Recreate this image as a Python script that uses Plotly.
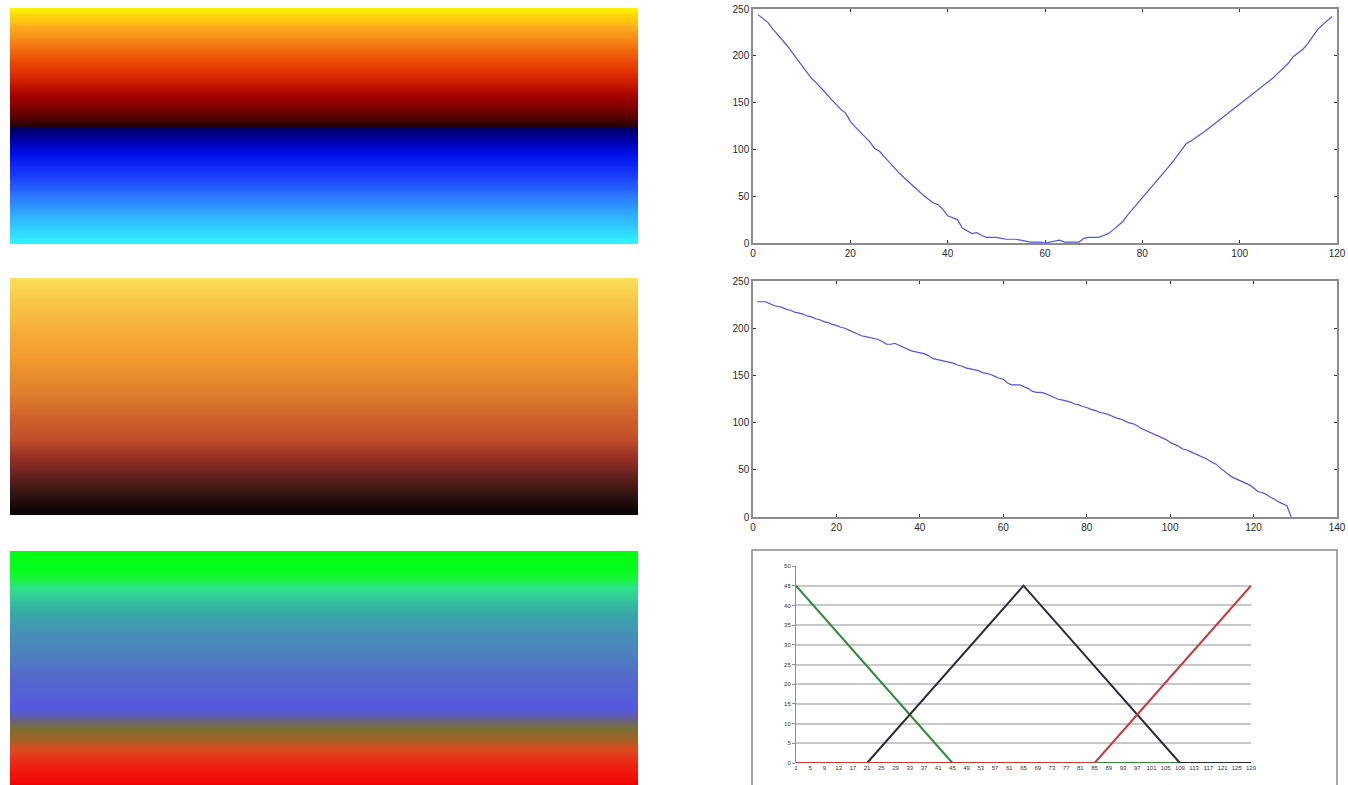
import plotly.graph_objects as go

W, H = 1348, 785

# ---- colormap swatches (stop position from top, colour) ----
hot_cold_stops = [
    (0.00, "#fff200"), (0.09, "#fca51d"), (0.16, "#f47612"), (0.25, "#e83a02"),
    (0.30, "#d42400"), (0.37, "#a80000"), (0.44, "#700000"), (0.50, "#2a0000"),
    (0.51, "#000060"), (0.56, "#0000a8"), (0.62, "#0010e8"), (0.71, "#1a3cff"),
    (0.79, "#2a70ff"), (0.87, "#30a8ff"), (1.00, "#2ef4ff"),
]
copper_stops = [
    (0.00, "#fde05a"), (0.09, "#f8c848"), (0.20, "#f6b23c"), (0.34, "#f39a2e"),
    (0.48, "#e0802c"), (0.58, "#d0652c"), (0.68, "#c24e2a"), (0.76, "#963024"),
    (0.82, "#702420"), (0.90, "#3a1614"), (1.00, "#050303"),
]
grb_stops = [
    (0.00, "#00ff10"), (0.09, "#08fc20"), (0.13, "#1ef050"), (0.16, "#2ee090"),
    (0.23, "#36b8a0"), (0.27, "#38a8a8"), (0.35, "#4690b8"), (0.44, "#4e80c0"),
    (0.54, "#5468cc"), (0.67, "#5658e0"), (0.71, "#665e90"), (0.75, "#787034"),
    (0.80, "#a86024"), (0.84, "#dc4a20"), (0.91, "#f02010"), (1.00, "#ee0000"),
]
levels = list(range(256))

# ---- top-right curve ----
x1 = list(range(1, 120))
y1 = [244, 240, 236, 229, 223, 218, 211, 204, 197, 190,
      184, 176, 171, 166, 160, 154, 148, 143, 139, 130,
      124, 119, 113, 108, 101, 98, 92, 86, 81, 75,
      70, 65, 60, 55, 51, 47, 43, 41, 36, 29,
      27, 25, 16, 13, 10, 11, 8, 6, 6, 6,
      5, 4, 4, 4, 3, 2, 1, 1, 1, 0,
      1, 2, 3, 1, 1, 1, 1, 5, 6, 6,
      6, 8, 10, 14, 18, 23, 30, 36, 42, 48,
      55, 61, 67, 73, 79, 85, 92, 99, 106, 109,
      113, 117, 120, 124, 128, 132, 136, 140, 145, 149,
      153, 157, 161, 165, 169, 173, 177, 182, 187, 192,
      199, 203, 207, 213, 220, 228, 233, 238, 242]

# ---- middle-right curve ----
x2 = list(range(1, 130))
y2 = [228, 228, 228, 226, 224, 223, 222, 220, 219, 217,
      216, 215, 213, 212, 210, 209, 207, 206, 204, 203,
      201, 200, 198, 196, 194, 192, 191, 190, 189, 188,
      186, 183, 183, 184, 182, 180, 178, 176, 175, 174,
      173, 171, 168, 167, 166, 165, 164, 163, 161, 160,
      158, 157, 156, 155, 153, 152, 151, 149, 147, 146,
      142, 140, 140, 140, 138, 136, 133, 132, 132, 131,
      129, 127, 125, 124, 123, 122, 120, 119, 117, 116,
      114, 113, 111, 110, 109, 107, 105, 104, 102, 100,
      99, 97, 94, 92, 90, 88, 86, 84, 82, 79,
      77, 75, 72, 71, 69, 67, 65, 63, 61, 58,
      56, 52, 48, 45, 42, 40, 38, 36, 34, 31,
      27, 26, 24, 21, 19, 16, 14, 12, 0]

# ---- bottom-right membership lines (vertices) ----
green_x, green_y = [1, 45, 129], [45, 0, 0]
black_x, black_y = [1, 21, 65, 109, 129], [0, 0, 45, 0, 0]
red_x, red_y = [1, 85, 129], [0, 0, 45]
cat_ticks = list(range(1, 130, 4))
cat_labels = [str(v) for v in cat_ticks]


def px_x(a, b):
    return [a / W, b / W]


def px_y(top, bottom):
    return [max(0.0, 1 - bottom / H), min(1.0, 1 - top / H)]


def scale(stops):
    return [[p, c] for p, c in stops]


fig = go.Figure()

# colormap swatches
swatches = [(hot_cold_stops, (8, 244)), (copper_stops, (278, 515)), (grb_stops, (551, 788))]
for i, (stops, (t, b)) in enumerate(swatches, start=1):
    fig.add_trace(go.Heatmap(
        z=[[v, v] for v in levels], x=[0, 1], y=levels,
        colorscale=scale(stops), zmin=0, zmax=255, showscale=False,
        hoverinfo="skip", xaxis=f"x{i}", yaxis=f"y{i}"))
    # the lowest swatch runs past the bottom edge of the page
    y_bottom = 255.5 if b <= H else 255.5 - (b - H) / (b - t) * 256
    fig.update_layout(**{
        f"xaxis{i}": dict(domain=px_x(10, 638), range=[-0.5, 1.5], visible=False,
                          anchor=f"y{i}", automargin=False),
        f"yaxis{i}": dict(domain=px_y(t, min(b, H)), range=[y_bottom, -0.5], visible=False,
                          anchor=f"x{i}", automargin=False),
    })

line_blue = "#5454d8"
tick_font = dict(family="Liberation Sans, Arial, sans-serif", size=10, color="#2a2a2a")
box_axis = dict(showline=True, linecolor="#8c8c8c", linewidth=1.5, mirror="ticks",
                ticks="inside", ticklen=3, tickcolor="#333", showgrid=False,
                zeroline=False, tickfont=tick_font, automargin=False)

fig.add_trace(go.Scatter(x=x1, y=y1, mode="lines", line=dict(color=line_blue, width=1.2),
                         xaxis="x4", yaxis="y4", showlegend=False))
fig.add_trace(go.Scatter(x=x2, y=y2, mode="lines", line=dict(color=line_blue, width=1.2),
                         xaxis="x5", yaxis="y5", showlegend=False))

fig.update_layout(
    xaxis4=dict(domain=px_x(753, 1337), range=[0, 120], dtick=20, anchor="y4", **box_axis),
    yaxis4=dict(domain=px_y(9, 243), range=[0, 250], dtick=50, anchor="x4", **box_axis),
    xaxis5=dict(domain=px_x(753, 1337), range=[0, 140], dtick=20, anchor="y5", **box_axis),
    yaxis5=dict(domain=px_y(281, 517), range=[0, 250], dtick=50, anchor="x5", **box_axis),
)

# bottom-right chart
small_font = dict(family="Liberation Sans, Arial, sans-serif", size=6, color="#333")
for xs, ys, col in [(green_x, green_y, "#2f8a3c"), (black_x, black_y, "#2a2a36"), (red_x, red_y, "#c43a3a")]:
    fig.add_trace(go.Scatter(x=xs, y=ys, mode="lines", line=dict(color=col, width=2),
                             xaxis="x6", yaxis="y6", showlegend=False))

fig.update_layout(
    xaxis6=dict(domain=px_x(796, 1251), range=[1, 129], tickvals=cat_ticks, ticktext=cat_labels,
                showgrid=False, zeroline=False, showline=False, ticks="", tickfont=small_font,
                anchor="y6", automargin=False),
    yaxis6=dict(domain=px_y(566, 763), range=[0, 50], dtick=5, showgrid=True, gridcolor="#c8c8c8",
                gridwidth=1.5, zeroline=False, showline=True, linecolor="#8c8c8c", linewidth=1,
                ticks="outside", ticklen=3, tickcolor="#8c8c8c", tickfont=small_font, anchor="x6",
                automargin=False),
    shapes=[dict(type="rect", xref="paper", yref="paper",
                 x0=752 / W, x1=1337 / W, y0=-0.02, y1=1 - 550 / H,
                 line=dict(color="#8c8c8c", width=1.5), fillcolor="rgba(0,0,0,0)", layer="below")],
)

fig.update_layout(width=W, height=H, margin=dict(l=0, r=0, t=0, b=0, autoexpand=False),
                  paper_bgcolor="white", plot_bgcolor="rgba(0,0,0,0)", showlegend=False)

fig.write_html("out.html")
